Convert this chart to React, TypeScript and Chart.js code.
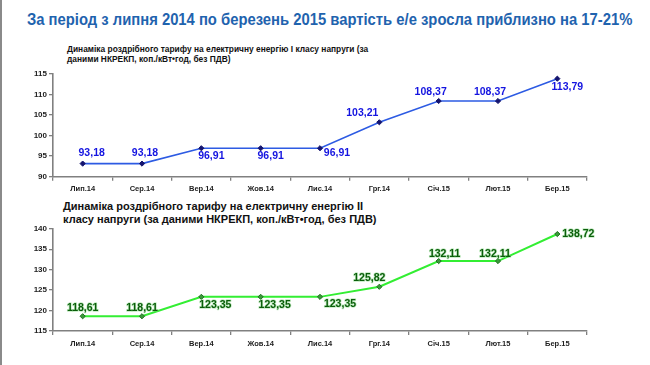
import React, { useEffect, useLayoutEffect, useRef } from "react";
import { Chart, registerables } from "chart.js";

Chart.register(...registerables);

const categories = ["Лип.14", "Сер.14", "Вер.14", "Жов.14", "Лис.14", "Грг.14", "Січ.15", "Лют.15", "Бер.15"];
const tariffClass1 = [93.18, 93.18, 96.91, 96.91, 96.91, 103.21, 108.37, 108.37, 113.79];
const tariffClass2 = [118.61, 118.61, 123.35, 123.35, 123.35, 125.82, 132.11, 132.11, 138.72];
const yTicks1 = [90, 95, 100, 105, 110, 115];
const yTicks2 = [115, 120, 125, 130, 135, 140];

const mainTitle = "За період з липня 2014 по березень 2015 вартість е/е зросла приблизно на 17-21%";
const subtitle1 = ["Динаміка роздрібного тарифу на електричну енергію I класу напруги (за", "даними НКРЕКП, коп./кВт•год, без ПДВ)"];
const subtitle2 = ["Динаміка роздрібного тарифу на електричну енергію II", "класу напруги (за даними НКРЕКП, коп./кВт•год, без ПДВ)"];

// label placement relative to each point (dx, dy in px)
const labelOffsets1: [number, number][] = [[9, -10], [3, -10], [10, 8], [10, 8], [17, 5], [-17, -9], [-8, -9], [-8, -9], [10, 8]];
const labelOffsets2: [number, number][] = [[0, -8], [0, -8], [14, 8], [14, 8], [20, 7], [-10, -9], [6, -7], [-3, -7], [21, 0]];

const FONT = "'Liberation Sans', Arial, sans-serif";

const fmt = (v: number) => v.toFixed(2).replace(".", ",");

function makeLabelPlugin(offsets: [number, number][], color: string, halo: string | null) {
  return {
    id: "valueLabels",
    afterDatasetsDraw(chart: any) {
      const ctx = chart.ctx;
      const meta = chart.getDatasetMeta(0);
      const data = chart.data.datasets[0].data as number[];
      ctx.save();
      ctx.font = `bold 10.5px ${FONT}`;
      ctx.textAlign = "center";
      ctx.textBaseline = "middle";
      meta.data.forEach((pt: any, i: number) => {
        const [dx, dy] = offsets[i];
        const t = fmt(data[i]);
        if (halo) {
          ctx.lineWidth = 1.5;
          ctx.strokeStyle = halo;
          ctx.lineJoin = "round";
          ctx.strokeText(t, pt.x + dx, pt.y + dy);
        }
        ctx.fillStyle = color;
        ctx.fillText(t, pt.x + dx, pt.y + dy);
      });
      ctx.restore();
    },
  };
}

function buildConfig(values: number[], ticks: number[], opts: any) {
  const minV = ticks[0];
  const maxV = ticks[ticks.length - 1];
  return {
    type: "line",
    data: {
      labels: categories,
      datasets: [
        {
          data: values,
          borderColor: opts.line,
          borderWidth: opts.lineWidth,
          pointStyle: "rectRot",
          pointRadius: 2.6,
          pointBackgroundColor: opts.marker,
          pointBorderColor: opts.markerBorder,
          pointBorderWidth: 1,
          tension: 0,
          fill: false,
        },
      ],
    },
    options: {
      responsive: false,
      animation: false,
      events: [],
      layout: { padding: { left: 0, right: 63, top: opts.top, bottom: opts.bottom } },
      plugins: { legend: { display: false }, tooltip: { enabled: false }, title: { display: false } },
      scales: {
        x: {
          type: "category",
          offset: true,
          grid: { display: true, drawOnChartArea: false, drawTicks: true, tickLength: 4, offset: true, color: "#808080", lineWidth: 1.3 },
          border: { display: true, color: "#808080", width: 1.6 },
          ticks: { color: "#222", font: { family: FONT, size: 7.5, weight: "bold" }, padding: 4, maxRotation: 0, autoSkip: false },
          afterFit: (s: any) => { s.height = 20; },
        },
        y: {
          min: minV,
          max: maxV,
          afterBuildTicks: (s: any) => { s.ticks = ticks.map((v) => ({ value: v })); },
          grid: { display: true, drawOnChartArea: false, drawTicks: true, tickLength: 4, color: "#808080", lineWidth: 1.3 },
          border: { display: true, color: "#808080", width: 1.6 },
          ticks: { color: "#222", font: { family: FONT, size: 8, weight: "bold" }, padding: 2 },
          afterFit: (s: any) => { s.width = 53; },
        },
      },
    },
    plugins: [makeLabelPlugin(opts.offsets, opts.label, opts.halo)],
  };
}

export default function App() {
  const c1 = useRef<HTMLCanvasElement>(null);
  const c2 = useRef<HTMLCanvasElement>(null);
  const titleRef = useRef<HTMLDivElement>(null);

  useLayoutEffect(() => {
    const el = titleRef.current;
    if (el) {
      const w = el.scrollWidth;
      if (w > 0) el.style.transform = `scaleX(${605 / w})`;
    }
  }, []);

  useEffect(() => {
    const ch1 = new Chart(c1.current as HTMLCanvasElement, buildConfig(tariffClass1, yTicks1, {
      line: "#2D5BE3", lineWidth: 1.6, marker: "#14146e", markerBorder: "#14146e",
      label: "#1414E0", halo: null, offsets: labelOffsets1, top: 8.7, bottom: 3.3,
    }) as any);
    const ch2 = new Chart(c2.current as HTMLCanvasElement, buildConfig(tariffClass2, yTicks2, {
      line: "#33EE33", lineWidth: 2, marker: "#3a9a3a", markerBorder: "#1f6f1f",
      label: "#0A5E0A", halo: "rgba(120,210,120,0.45)", offsets: labelOffsets2, top: 6.3, bottom: 6,
    }) as any);
    return () => { ch1.destroy(); ch2.destroy(); };
  }, []);

  const abs: React.CSSProperties = { position: "absolute", margin: 0, whiteSpace: "nowrap", fontFamily: FONT, fontWeight: "bold" };

  return (
    <div style={{ position: "absolute", left: 0, top: 0, width: 650, height: 365, background: "#fff", overflow: "hidden" }}>
      <div style={{ position: "absolute", left: 0, top: 0, width: 2, height: 365, background: "#8a8a8a" }} />
      <div ref={titleRef} style={{ ...abs, left: 27, top: 10, fontSize: 16, lineHeight: "20px", color: "#1F63AE", transformOrigin: "0 0" }}>{mainTitle}</div>
      <div style={{ ...abs, left: 67, top: 45, fontSize: 8.4, lineHeight: "9.5px", color: "#111" }}>
        {subtitle1.map((l, i) => <div key={i}>{l}</div>)}
      </div>
      <div style={{ ...abs, left: 63, top: 200.4, fontSize: 11, lineHeight: "12.6px", color: "#111" }}>
        {subtitle2.map((l, i) => <div key={i}>{l}</div>)}
      </div>
      <canvas ref={c1} width={650} height={135} style={{ position: "absolute", left: 0, top: 65, width: 650, height: 135 }} />
      <canvas ref={c2} width={650} height={135} style={{ position: "absolute", left: 0, top: 222, width: 650, height: 135 }} />
    </div>
  );
}
